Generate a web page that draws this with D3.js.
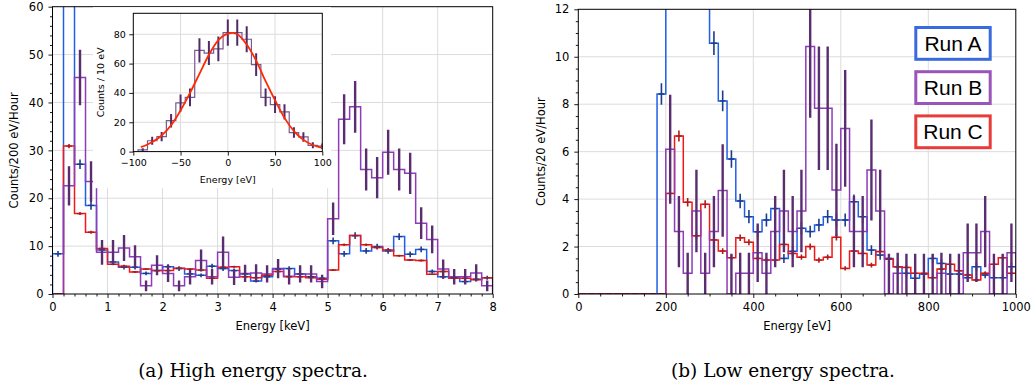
<!DOCTYPE html>
<html>
<head>
<meta charset="utf-8">
<script src="https://cdn.jsdelivr.net/npm/d3@7"></script>
<style>
  body { margin: 0; background: #fff; }
  svg { display: block; font-family: "DejaVu Sans", sans-serif; }
</style>
</head>
<body>
<svg id="fig" width="1036" height="386"></svg>
<script>
// ---- high energy panel (0.2 keV bins, 0..8 keV) ----
const hiEdges = d3.range(41).map(i => i * 0.2);
const runA_hi = [8.4, 75, 27.1, 18.5, 9.2, 6.7, 5.6, 5.6, 4.3, 4.9, 5.7, 5.3, 4.2, 3.9, 5.8, 5.3, 4.9, 4.2, 2.7, 3.6,
                 5.2, 5.3, 4.2, 3.6, 3.3, 11.1, 8.4, 12.2, 9.0, 9.9, 9.0, 12.0, 8.3, 9.3, 4.7, 3.6, 3.4, 2.6, 3.1, 3.4];
const errA_hi = [0.6, 1.7, 1.0, 0.9, 0.6, 0.5, 0.5, 0.5, 0.4, 0.4, 0.5, 0.5, 0.4, 0.4, 0.5, 0.5, 0.4, 0.4, 0.3, 0.4,
                 0.5, 0.5, 0.4, 0.4, 0.4, 0.7, 0.6, 0.7, 0.6, 0.6, 0.6, 0.7, 0.6, 0.6, 0.4, 0.4, 0.4, 0.3, 0.4, 0.4];
const runB_hi = [0, 22.6, 45.2, 23.5, 8.7, 8.7, 9.6, 7.8, 1.7, 6.0, 4.3, 1.7, 3.6, 7.0, 3.6, 8.7, 3.5, 4.3, 4.4, 4.2,
                 5.3, 3.7, 4.2, 4.2, 2.6, 15.7, 36.5, 39.1, 26.0, 24.3, 29.6, 26.0, 25.2, 14.8, 11.4, 5.2, 3.6, 3.6, 4.4, 1.7];
const errB_hi = [0, 4.1, 5.8, 4.2, 2.6, 2.6, 2.7, 2.4, 1.1, 2.1, 1.8, 1.1, 1.6, 2.3, 1.6, 3.3, 1.6, 1.8, 1.8, 1.8,
                 2.0, 1.7, 1.8, 1.8, 1.4, 3.4, 5.2, 5.4, 4.4, 4.3, 4.7, 4.4, 4.3, 3.3, 2.9, 2.0, 1.6, 1.6, 1.8, 1.1];
const runC_hi = [0, 30.9, 16.8, 12.9, 9.5, 6.2, 5.8, 4.6, 5.2, 4.9, 4.9, 5.4, 5.2, 5.0, 3.3, 5.6, 5.7, 3.6, 3.4, 3.9,
                 4.7, 3.6, 3.6, 3.4, 3.1, 5.0, 10.3, 12.2, 10.3, 9.7, 9.2, 8.0, 7.1, 7.0, 4.1, 4.7, 3.3, 3.3, 3.0, 3.4];
const errC_hi = [0, 0.45, 0.3, 0.3, 0.25, 0.2, 0.2, 0.2, 0.2, 0.2, 0.2, 0.2, 0.2, 0.2, 0.15, 0.2, 0.2, 0.15, 0.15, 0.15,
                 0.2, 0.15, 0.15, 0.15, 0.15, 0.2, 0.25, 0.3, 0.25, 0.25, 0.25, 0.2, 0.2, 0.2, 0.15, 0.2, 0.15, 0.15, 0.15, 0.15];

// ---- inset: 10 eV bins centred on -90..100 ----
const insetCentres = [-90, -80, -70, -60, -50, -40, -30, -20, -10, 0, 10, 20, 30, 40, 50, 60, 70, 80, 90, 100];
const insetCounts = [1.2, 7.4, 10.2, 21.1, 33.2, 37.0, 69.0, 67.2, 70.0, 81.1, 81.1, 76.6, 59.3, 37.0, 32.0, 27.1, 13.0, 10.0, 4.3, 3.7];
const insetErr = [1.1, 2.7, 3.2, 4.6, 5.8, 6.1, 8.3, 8.2, 8.4, 9.0, 9.0, 8.8, 7.7, 6.1, 5.7, 5.2, 3.6, 3.2, 2.1, 1.9];
const fitE = [-92, -85, -80, -70, -60, -50, -40, -30, -20, -10, 0, 5, 10, 20, 30, 40, 50, 60, 70, 80, 90, 100];
const fitV = [3, 4.8, 6.5, 11, 18, 28, 40, 53, 66, 76, 80.5, 81, 80, 73, 62, 48, 35, 23, 14, 8, 4.5, 2.5];

// ---- low energy panel (20 eV bins, 0..1000 eV) ----
const loEdges = d3.range(51).map(i => i * 20);
const runA_lo = [0, 0, 0, 0, 0, 0, 0, 0, 0, 8.43, 20, 28, 25, 22, 16, 10.57, 8.14, 5.69, 3.92, 3.26,
                 2.62, 3.12, 3.6, 1.5, 1.8, 2.77, 2.63, 2.91, 3.26, 3.12, 3.12, 3.89, 3.26, 1.85, 1.64, 1.5, 1.15, 0.87, 0.66, 0.84,
                 1.5, 1.29, 0.84, 0.84, 0.69, 1.15, 0.8, 0.69, 0.69, 1.15];
const errA_lo = [0, 0, 0, 0, 0, 0, 0, 0, 0, 0.45, 0.7, 0.8, 0.8, 0.7, 0.6, 0.5, 0.44, 0.37, 0.31, 0.28,
                 0.25, 0.27, 0.29, 0.19, 0.21, 0.26, 0.25, 0.26, 0.28, 0.27, 0.27, 0.3, 0.28, 0.21, 0.2, 0.19, 0.17, 0.14, 0.13, 0.14,
                 0.19, 0.18, 0.14, 0.14, 0.13, 0.17, 0.14, 0.13, 0.13, 0.17];
const runB_lo = [0, 0, 0, 0, 0, 0, 0, 0, 0, 0, 6.1, 2.63, 0.87, 3.5, 0.87, 2.63, 4.36, 0, 0.87, 0.87,
                 1.74, 0.87, 2.63, 3.5, 2.63, 3.5, 10.43, 7.83, 7.83, 4.38, 6.98, 2.63, 2.63, 5.23, 3.5, 0, 0.87, 0, 0, 0,
                 0, 0.87, 0, 0, 1.74, 1.74, 2.63, 0, 0, 1.74];
const errB_lo = [0, 0, 0, 0, 0, 0, 0, 0, 0, 0, 2.3, 1.5, 0.87, 1.74, 0.87, 1.5, 1.95, 1.7, 0.87, 0.87,
                 1.23, 0.87, 1.5, 1.74, 1.5, 1.74, 3.0, 2.6, 2.6, 1.95, 2.46, 1.5, 1.5, 2.13, 1.74, 1.7, 0.87, 1.7, 1.7, 1.7,
                 1.7, 0.87, 1.7, 1.7, 1.23, 1.23, 1.5, 1.7, 1.7, 1.23];
const runC_lo = [0, 0, 0, 0, 0, 0, 0, 0, 0, 0, 4.24, 6.66, 3.87, 2.45, 3.78, 2.28, 1.81, 1.53, 2.37, 2.18,
                 1.5, 1.43, 1.43, 2.09, 1.71, 1.55, 2.0, 1.43, 1.55, 2.39, 1.08, 1.81, 1.71, 1.22, 1.79, 1.46, 1.15, 1.12, 0.87, 0.87,
                 0.69, 1.05, 1.25, 0.98, 0.8, 0.59, 0.87, 1.25, 1.53, 0.87];
const errC_lo = [0, 0, 0, 0, 0, 0, 0, 0, 0, 0, 0.18, 0.23, 0.18, 0.14, 0.17, 0.14, 0.12, 0.11, 0.14, 0.13,
                 0.11, 0.11, 0.11, 0.13, 0.12, 0.11, 0.13, 0.11, 0.11, 0.14, 0.09, 0.12, 0.12, 0.1, 0.12, 0.11, 0.1, 0.1, 0.08, 0.08,
                 0.08, 0.09, 0.1, 0.09, 0.08, 0.07, 0.08, 0.1, 0.11, 0.08];

// ---- ticks, labels, legend ----
const hiXTicks = [0, 1, 2, 3, 4, 5, 6, 7, 8];
const hiYTicks = [0, 10, 20, 30, 40, 50, 60];
const loXTicks = [0, 200, 400, 600, 800, 1000];
const loYTicks = [0, 2, 4, 6, 8, 10, 12];
const insetXTicks = [-100, -50, 0, 50, 100];
const insetXLabels = ['\u2212100', '\u221250', '0', '50', '100'];
const insetYTicks = [0, 20, 40, 60, 80];
const runNames = ['Run A', 'Run B', 'Run C'];
const legendBorder = ['#3a6ae0', '#9a55b8', '#e83c38'];

const colA = '#1f5fe6', errColA = '#1d3b8c';
const colB = '#8d3bb8', errColB = '#5a2c70';
const colC = '#f01818', errColC = '#b01a1a';

const svg = d3.select('#fig');
svg.append('rect').attr('width', 1036).attr('height', 386).attr('fill', '#fff');

function makeScales(box, xDom, yDom) {
  return {
    x: d3.scaleLinear().domain(xDom).range([box.x0, box.x1]),
    y: d3.scaleLinear().domain(yDom).range([box.y1, box.y0])
  };
}

function grid(g, s, box, xt, yt) {
  const gg = g.append('g').attr('stroke', '#dcdcdc').attr('stroke-width', 1);
  xt.forEach(v => gg.append('line').attr('x1', s.x(v)).attr('x2', s.x(v)).attr('y1', box.y0).attr('y2', box.y1));
  yt.forEach(v => gg.append('line').attr('y1', s.y(v)).attr('y2', s.y(v)).attr('x1', box.x0).attr('x2', box.x1));
}

function clipFor(id, box) {
  svg.append('clipPath').attr('id', id).append('rect')
    .attr('x', box.x0).attr('y', box.y0).attr('width', box.x1 - box.x0).attr('height', box.y1 - box.y0);
  return svg.append('g').attr('clip-path', `url(#${id})`);
}

function stepLine(g, s, edges, vals, color, width) {
  const pts = [[edges[0], 0]];
  vals.forEach((v, i) => { pts.push([edges[i], v]); pts.push([edges[i + 1], v]); });
  pts.push([edges[edges.length - 1], 0]);
  g.append('path')
    .attr('d', d3.line().x(d => s.x(d[0])).y(d => s.y(d[1]))(pts))
    .attr('fill', 'none').attr('stroke', color).attr('stroke-width', width)
    .attr('stroke-linejoin', 'miter');
}

function errBars(g, s, centres, vals, errs, color, width, dash) {
  vals.forEach((v, i) => {
    const cx = s.x(centres[i]);
    if (errs[i] > 0) {
      g.append('line').attr('x1', cx).attr('x2', cx)
        .attr('y1', s.y(Math.max(0, v - errs[i]))).attr('y2', s.y(v + errs[i]))
        .attr('stroke', color).attr('stroke-width', width);
    }
    if (dash) {
      g.append('line').attr('x1', cx - dash).attr('x2', cx + dash)
        .attr('y1', s.y(v)).attr('y2', s.y(v))
        .attr('stroke', color).attr('stroke-width', 1.3);
    }
  });
}

function axes(s, box, xt, xl, yt, yl, xm, ym, fs, pad) {
  const bx = svg.append('g').attr('transform', `translate(0,${box.y1})`);
  if (xm) bx.call(d3.axisBottom(s.x).tickValues(xm).tickSize(2.5).tickFormat(''));
  const bx2 = svg.append('g').attr('transform', `translate(0,${box.y1})`)
    .call(d3.axisBottom(s.x).tickValues(xt).tickSize(4).tickPadding(pad).tickFormat((d, i) => xl[i]));
  const by = svg.append('g').attr('transform', `translate(${box.x0},0)`);
  if (ym) by.call(d3.axisLeft(s.y).tickValues(ym).tickSize(2.5).tickFormat(''));
  const by2 = svg.append('g').attr('transform', `translate(${box.x0},0)`)
    .call(d3.axisLeft(s.y).tickValues(yt).tickSize(4).tickPadding(pad).tickFormat((d, i) => yl[i]));
  [bx, bx2, by, by2].forEach(a => {
    a.select('.domain').remove();
    a.attr('font-family', '"DejaVu Sans", sans-serif').attr('font-size', fs);
    a.selectAll('text').attr('fill', '#000');
    a.selectAll('line').attr('stroke', '#000').attr('stroke-width', 0.9);
  });
  svg.append('rect').attr('x', box.x0).attr('y', box.y0)
    .attr('width', box.x1 - box.x0).attr('height', box.y1 - box.y0)
    .attr('fill', 'none').attr('stroke', '#000').attr('stroke-width', 1);
}

function centresOf(edges) { return edges.slice(0, -1).map((e, i) => (e + edges[i + 1]) / 2); }

// =============== (a) high energy ===============
const L = { x0: 52.5, x1: 492.7, y0: 6.7, y1: 294 };
const sL = makeScales(L, [0, 8], [0, 60]);
grid(svg, sL, L, hiXTicks.slice(1, -1), hiYTicks.slice(1, -1));
const gL = clipFor('clipL', L);
const cHi = centresOf(hiEdges);
stepLine(gL, sL, hiEdges, runA_hi, colA, 1.5);
stepLine(gL, sL, hiEdges, runC_hi, colC, 1.5);
stepLine(gL, sL, hiEdges, runB_hi, colB, 1.5);
errBars(gL, sL, cHi, runA_hi, errA_hi, errColA, 1.6, 3);
errBars(gL, sL, cHi, runC_hi, errC_hi, errColC, 1.6, 3);
errBars(gL, sL, cHi, runB_hi, errB_hi, errColB, 2.4, 0);
axes(sL, L, hiXTicks, hiXTicks.map(String), hiYTicks, hiYTicks.map(String),
     d3.range(41).map(i => i * 0.2).filter((v, i) => i % 5), d3.range(31).map(i => i * 2).filter((v, i) => i % 5), 11.5, 5);

svg.append('text').attr('x', (L.x0 + L.x1) / 2).attr('y', 330).attr('text-anchor', 'middle')
  .attr('font-size', 11.5).text('Energy [keV]');
svg.append('text').attr('transform', `translate(18,${(L.y0 + L.y1) / 2}) rotate(-90)`).attr('text-anchor', 'middle')
  .attr('font-size', 11.5).text('Counts/200 eV/Hour');

// inset
svg.append('rect').attr('x', 93).attr('y', L.y0 + 0.5).attr('width', 238).attr('height', 181).attr('fill', '#fff');
const IN = { x0: 133.3, x1: 322.3, y0: 13.3, y1: 151.6 };
const sI = makeScales(IN, [-100, 100], [0, 94.3]);
grid(svg, sI, IN, insetXTicks.slice(1, -1), insetYTicks.slice(1));
const gI = clipFor('clipI', IN);
const inEdges = insetCentres.map(c => c - 5).concat([insetCentres[insetCentres.length - 1] + 5]);
const inPts = [];
insetCounts.forEach((v, i) => { inPts.push([inEdges[i], v]); inPts.push([inEdges[i + 1], v]); });
gI.append('path').attr('d', d3.line().x(d => sI.x(d[0])).y(d => sI.y(d[1]))([[inEdges[0], 0]].concat(inPts)))
  .attr('fill', 'none').attr('stroke', '#7a5890').attr('stroke-width', 1.2);
errBars(gI, sI, insetCentres, insetCounts, insetErr, '#512a68', 2, 0);
gI.append('path').attr('d', d3.line().curve(d3.curveMonotoneX).x((d, i) => sI.x(fitE[i])).y(d => sI.y(d))(fitV))
  .attr('fill', 'none').attr('stroke', '#ff2a00').attr('stroke-width', 1.8);
axes(sI, IN, insetXTicks, insetXLabels, insetYTicks, insetYTicks.map(String), null, null, 9.5, 3.5);
svg.append('text').attr('x', (IN.x0 + IN.x1) / 2).attr('y', 183).attr('text-anchor', 'middle')
  .attr('font-size', 9.5).text('Energy [eV]');
svg.append('text').attr('transform', `translate(103.5,${(IN.y0 + IN.y1) / 2}) rotate(-90)`).attr('text-anchor', 'middle')
  .attr('font-size', 9.5).text('Counts / 10 eV');

// =============== (b) low energy ===============
const R = { x0: 578.3, x1: 1015.8, y0: 9.3, y1: 294 };
const sR = makeScales(R, [0, 1000], [0, 12]);
grid(svg, sR, R, loXTicks.slice(1, -1), loYTicks.slice(1, -1));
const gR = clipFor('clipR', R);
const cLo = centresOf(loEdges);
stepLine(gR, sR, loEdges, runA_lo, colA, 1.5);
stepLine(gR, sR, loEdges, runC_lo, colC, 1.5);
stepLine(gR, sR, loEdges, runB_lo, colB, 1.5);
errBars(gR, sR, cLo, runA_lo, errA_lo, errColA, 1.6, 3);
errBars(gR, sR, cLo, runC_lo, errC_lo, errColC, 1.6, 3);
errBars(gR, sR, cLo, runB_lo, errB_lo, errColB, 2.4, 0);
axes(sR, R, loXTicks, loXTicks.map(String), loYTicks, loYTicks.map(String),
     d3.range(21).map(i => i * 50).filter((v, i) => i % 4), d3.range(25).map(i => i * 0.5).filter((v, i) => i % 4), 11.5, 5);
svg.append('text').attr('x', (R.x0 + R.x1) / 2).attr('y', 330).attr('text-anchor', 'middle')
  .attr('font-size', 11.5).text('Energy [eV]');
svg.append('text').attr('transform', `translate(545,${(R.y0 + R.y1) / 2}) rotate(-90)`).attr('text-anchor', 'middle')
  .attr('font-size', 11.5).text('Counts/20 eV/Hour');

// legend
const leg = svg.append('g');
runNames.forEach((name, i) => {
  const top = 27.5 + i * 44.2;
  leg.append('rect').attr('x', 915.8).attr('y', top).attr('width', 74.4).attr('height', 31.8)
    .attr('fill', '#fff').attr('stroke', legendBorder[i]).attr('stroke-width', 3);
  leg.append('text').attr('x', 953).attr('y', top + 23.3).attr('text-anchor', 'middle')
    .attr('font-family', '"Liberation Sans", Arial, sans-serif').attr('font-size', 21).text(name);
});

// captions
svg.append('text').attr('x', 253).attr('y', 377).attr('text-anchor', 'middle')
  .attr('font-family', '"DejaVu Serif", serif').attr('font-size', 18.5).text('(a) High energy spectra.');
svg.append('text').attr('x', 783).attr('y', 377).attr('text-anchor', 'middle')
  .attr('font-family', '"DejaVu Serif", serif').attr('font-size', 18.5).text('(b) Low energy spectra.');
</script>
</body>
</html>
